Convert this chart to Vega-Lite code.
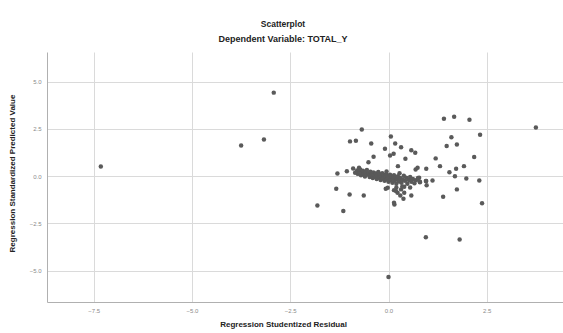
{
  "$schema": "https://vega.github.io/schema/vega-lite/v6.json",
  "width": 516,
  "height": 250,
  "autosize": "none",
  "padding": {"left": 47, "top": 52, "right": 0, "bottom": 31},
  "background": "white",
  "title": {
    "text": "Scatterplot",
    "subtitle": "Dependent Variable: TOTAL_Y",
    "anchor": "middle",
    "dx": -22,
    "fontSize": 8.5,
    "fontWeight": "bold",
    "font": "Liberation Sans",
    "color": "#222",
    "subtitleFontSize": 9,
    "subtitleFontWeight": "bold",
    "subtitleFont": "Liberation Sans",
    "subtitleColor": "#222",
    "subtitlePadding": 7,
    "offset": 8
  },
  "config": {
    "view": {"stroke": null},
    "axis": {
      "gridColor": "#dadada",
      "gridWidth": 1,
      "domainColor": "#b0b0b0",
      "ticks": false,
      "labelColor": "#8a8a8a",
      "labelFontSize": 6,
      "labelFont": "Liberation Sans",
      "titleFont": "Liberation Sans",
      "titleFontSize": 8,
      "titleFontWeight": "bold",
      "titleColor": "#222"
    }
  },
  "data": {
    "values": [
      {"x": -7.32, "y": 0.51}, {"x": -3.75, "y": 1.62}, {"x": -3.17, "y": 1.94}, {"x": -2.92, "y": 4.42},
      {"x": 3.75, "y": 2.58}, {"x": 0.0, "y": -5.34}, {"x": -0.68, "y": 2.47}, {"x": -0.98, "y": 1.84},
      {"x": -0.83, "y": 1.87}, {"x": -0.44, "y": 1.73}, {"x": 0.06, "y": 2.1}, {"x": 0.17, "y": 1.73},
      {"x": 0.32, "y": 1.53}, {"x": -0.09, "y": 1.45}, {"x": 0.58, "y": 1.37}, {"x": 0.68, "y": 1.24},
      {"x": 0.04, "y": 1.09}, {"x": 0.13, "y": 1.18}, {"x": -0.38, "y": 1.03}, {"x": -0.51, "y": 0.74},
      {"x": 0.43, "y": 0.92}, {"x": 0.24, "y": 0.53}, {"x": 1.41, "y": 3.04}, {"x": 1.67, "y": 3.14},
      {"x": 2.06, "y": 2.98}, {"x": 2.33, "y": 2.19}, {"x": 1.6, "y": 2.06}, {"x": 1.48, "y": 1.59},
      {"x": 1.74, "y": 1.68}, {"x": 1.2, "y": 0.94}, {"x": 1.31, "y": 0.53}, {"x": 2.18, "y": 1.01},
      {"x": 1.92, "y": 0.53}, {"x": 1.72, "y": 0.39}, {"x": 1.55, "y": 0.21}, {"x": 1.69, "y": 0.0},
      {"x": 1.98, "y": -0.12}, {"x": 2.31, "y": -0.23}, {"x": 0.96, "y": 0.39}, {"x": 0.69, "y": 0.35},
      {"x": 1.12, "y": -0.23}, {"x": 0.96, "y": -0.26}, {"x": 0.8, "y": -0.32}, {"x": 0.97, "y": -0.48},
      {"x": 1.39, "y": -1.09}, {"x": 1.74, "y": -0.7}, {"x": 2.38, "y": -1.43}, {"x": 0.95, "y": -3.23},
      {"x": 1.81, "y": -3.35}, {"x": -1.3, "y": 0.14}, {"x": -1.06, "y": 0.26}, {"x": -1.33, "y": -0.67},
      {"x": -0.99, "y": -0.97}, {"x": -0.63, "y": -1.02}, {"x": -1.81, "y": -1.55}, {"x": -1.15, "y": -1.85},
      {"x": 0.15, "y": -1.5}, {"x": 0.58, "y": -1.02}, {"x": 0.38, "y": -1.2}, {"x": 0.3, "y": -1.02},
      {"x": 0.4, "y": -0.56}, {"x": -0.07, "y": -0.67}, {"x": 0.14, "y": -0.74}, {"x": 0.23, "y": -0.88},
      {"x": -0.75, "y": 0.44}, {"x": 0.74, "y": 0.44}, {"x": 0.78, "y": -0.08}, {"x": 0.95, "y": -0.26},
      {"x": 0.14, "y": -1.41}, {"x": 0.32, "y": -0.7}, {"x": 0.4, "y": -0.88}, {"x": 0.19, "y": -0.79},
      {"x": -0.02, "y": -0.61},
      {"x": -0.8, "y": 0.3}, {"x": -0.78, "y": 0.12}, {"x": -0.75, "y": 0.22}, {"x": -0.72, "y": 0.35},
      {"x": -0.7, "y": 0.05}, {"x": -0.68, "y": 0.18}, {"x": -0.65, "y": 0.28}, {"x": -0.63, "y": 0.1},
      {"x": -0.6, "y": -0.02}, {"x": -0.58, "y": 0.2}, {"x": -0.55, "y": 0.32}, {"x": -0.53, "y": 0.08},
      {"x": -0.5, "y": 0.15}, {"x": -0.48, "y": -0.05}, {"x": -0.46, "y": 0.24}, {"x": -0.44, "y": 0.02},
      {"x": -0.42, "y": 0.12}, {"x": -0.4, "y": -0.1}, {"x": -0.38, "y": 0.2}, {"x": -0.36, "y": 0.06},
      {"x": -0.34, "y": -0.04}, {"x": -0.32, "y": 0.14}, {"x": -0.3, "y": -0.15}, {"x": -0.28, "y": 0.04},
      {"x": -0.26, "y": 0.22}, {"x": -0.24, "y": -0.08}, {"x": -0.22, "y": 0.1}, {"x": -0.2, "y": -0.2},
      {"x": -0.18, "y": 0.0}, {"x": -0.16, "y": 0.16}, {"x": -0.14, "y": -0.12}, {"x": -0.12, "y": 0.06},
      {"x": -0.1, "y": -0.25}, {"x": -0.08, "y": -0.03}, {"x": -0.06, "y": 0.12}, {"x": -0.04, "y": -0.16},
      {"x": -0.02, "y": 0.02}, {"x": 0.0, "y": -0.3}, {"x": 0.02, "y": -0.08}, {"x": 0.04, "y": 0.08},
      {"x": 0.06, "y": -0.2}, {"x": 0.08, "y": -0.02}, {"x": 0.1, "y": -0.35}, {"x": 0.12, "y": -0.12},
      {"x": 0.14, "y": 0.05}, {"x": 0.16, "y": -0.25}, {"x": 0.18, "y": -0.06}, {"x": 0.2, "y": -0.4},
      {"x": 0.22, "y": -0.15}, {"x": 0.24, "y": 0.0}, {"x": 0.27, "y": -0.28}, {"x": 0.3, "y": -0.1},
      {"x": 0.33, "y": -0.35}, {"x": 0.36, "y": -0.18}, {"x": 0.39, "y": 0.02}, {"x": 0.42, "y": -0.25},
      {"x": 0.45, "y": -0.08}, {"x": 0.48, "y": -0.4}, {"x": 0.52, "y": -0.2}, {"x": 0.55, "y": -0.05},
      {"x": 0.58, "y": -0.3}, {"x": 0.62, "y": -0.15}, {"x": 0.66, "y": -0.38}, {"x": 0.7, "y": -0.22},
      {"x": 0.75, "y": -0.1}, {"x": 0.8, "y": -0.3}, {"x": -0.9, "y": 0.4}, {"x": -0.85, "y": 0.18},
      {"x": 0.28, "y": 0.15}, {"x": -0.05, "y": 0.25}, {"x": 0.35, "y": -0.55}, {"x": 0.55, "y": -0.6},
      {"x": 0.2, "y": -0.6}
    ]
  },
  "mark": {"type": "circle", "size": 20, "color": "#5a5a5a", "opacity": 1},
  "encoding": {
    "x": {
      "field": "x",
      "type": "quantitative",
      "scale": {"domain": [-8.69, 4.44], "nice": false, "zero": false},
      "axis": {
        "values": [-7.5, -5, -2.5, 0, 2.5],
        "format": ".1f",
        "title": "Regression Studentized Residual",
        "labelPadding": 5,
        "titleX": 236,
        "titleY": 18,
        "titleAnchor": null
      }
    },
    "y": {
      "field": "y",
      "type": "quantitative",
      "scale": {"domain": [-6.66, 6.57], "nice": false, "zero": false},
      "axis": {
        "values": [-5, -2.5, 0, 2.5, 5],
        "format": ".1f",
        "title": "Regression Standardized Predicted Value",
        "labelPadding": 6,
        "titleX": -31,
        "titleY": 121,
        "titleAnchor": null
      }
    }
  }
}
